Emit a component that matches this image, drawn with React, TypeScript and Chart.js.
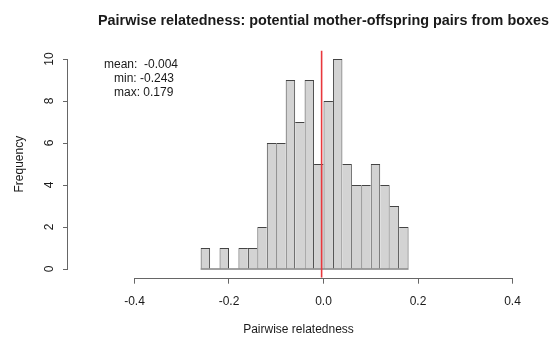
import React, { useEffect, useRef } from "react";
import { Chart, registerables } from "chart.js";

Chart.register(...registerables);

const TITLE = "Pairwise relatedness: potential mother-offspring pairs from boxes";
const X_LABEL = "Pairwise relatedness";
const Y_LABEL = "Frequency";

const BIN_WIDTH = 0.02;
const BIN_CENTERS = [
  -0.25, -0.23, -0.21, -0.19, -0.17, -0.15, -0.13, -0.11, -0.09, -0.07, -0.05,
  -0.03, -0.01, 0.01, 0.03, 0.05, 0.07, 0.09, 0.11, 0.13, 0.15, 0.17,
];
const COUNTS = [1, 0, 1, 0, 1, 1, 2, 6, 6, 9, 7, 9, 5, 8, 10, 5, 4, 4, 5, 4, 3, 2];

const X_TICKS = [-0.4, -0.2, 0, 0.2, 0.4];
const Y_TICKS = [0, 2, 4, 6, 8, 10];

const MEAN = -0.004;
const STAT_LINES = ["mean:  -0.004", "min: -0.243", "max: 0.179"];

const FONT = '"Liberation Sans", Arial, Helvetica, sans-serif';
const AXIS_COLOR = "#666";
const BAR_EDGE = "#444";
const TEXT_COLOR = "#1a1a1a";

const X_MIN = -0.5407;
const X_MAX = 0.4349;
const Y_MIN = -0.414;
const Y_MAX = 10.4;

const rStylePlugin = {
  id: "rstyle",
  afterDraw(chart: any) {
    const { ctx, chartArea } = chart;
    const xs = chart.scales.x;
    const ys = chart.scales.y;
    ctx.save();
    ctx.strokeStyle = AXIS_COLOR;
    ctx.lineWidth = 1;
    ctx.beginPath();
    const yb = Math.round(chartArea.bottom) + 0.5;
    ctx.moveTo(xs.getPixelForValue(X_TICKS[0]), yb);
    ctx.lineTo(xs.getPixelForValue(X_TICKS[X_TICKS.length - 1]), yb);
    const xl = Math.round(chartArea.left) - 0.5;
    ctx.moveTo(xl, ys.getPixelForValue(Y_TICKS[0]));
    ctx.lineTo(xl, ys.getPixelForValue(Y_TICKS[Y_TICKS.length - 1]));
    ctx.stroke();

    ctx.fillStyle = TEXT_COLOR;
    ctx.font = `bold 14.4px ${FONT}`;
    ctx.textAlign = "center";
    ctx.textBaseline = "middle";
    ctx.fillText(TITLE, xs.getPixelForValue(0), 21);

    ctx.font = `12px ${FONT}`;
    ctx.textAlign = "left";
    const lx = [104, 114, 114];
    const ly = [65, 79, 93];
    STAT_LINES.forEach((t, i) => ctx.fillText(t, lx[i], ly[i]));
    ctx.restore();
  },
};

export default function App() {
  const ref = useRef<HTMLCanvasElement>(null);
  useEffect(() => {
    if (!ref.current) return;
    const barData = BIN_CENTERS.map((c, i) => ({ x: c, y: COUNTS[i] }));
    const chart = new Chart(ref.current, {
      type: "bar",
      data: {
        datasets: [
          {
            type: "line",
            data: [
              { x: MEAN, y: Y_MIN },
              { x: MEAN, y: Y_MAX },
            ],
            borderColor: "#e8383d",
            borderWidth: 1.6,
            pointRadius: 0,
            order: 0,
          } as any,
          {
            type: "line",
            data: [
              { x: BIN_CENTERS[0] - BIN_WIDTH / 2, y: 0 },
              { x: BIN_CENTERS[BIN_CENTERS.length - 1] + BIN_WIDTH / 2, y: 0 },
            ],
            borderColor: BAR_EDGE,
            borderWidth: 1,
            pointRadius: 0,
            order: 1,
          } as any,
          {
            type: "bar",
            data: barData,
            backgroundColor: "#d3d3d3",
            borderColor: BAR_EDGE,
            borderSkipped: false,
            inflateAmount: 0,
            barPercentage: 1,
            categoryPercentage: 1,
            borderWidth: (ctx: any) => {
              const i = ctx.dataIndex;
              const c = COUNTS[i];
              if (!c) return 0;
              const prev = COUNTS[i - 1];
              const next = COUNTS[i + 1];
              return {
                top: 1,
                bottom: 0,
                left: prev === undefined || c >= prev ? 1 : 0,
                right: next === undefined || c > next ? 1 : 0,
              };
            },
            order: 2,
          } as any,
        ],
      },
      options: {
        animation: false,
        responsive: false,
        layout: { padding: { top: 50.6, left: 0, right: 26, bottom: 0 } },
        plugins: { legend: { display: false }, tooltip: { enabled: false }, title: { display: false } },
        scales: {
          x: {
            type: "linear",
            min: X_MIN,
            max: X_MAX,
            offset: false,
            afterBuildTicks: (s: any) => {
              s.ticks = X_TICKS.map((v) => ({ value: v }));
            },
            afterFit: (s: any) => {
              s.height = 63.3;
            },
            border: { display: false },
            grid: { offset: false, drawOnChartArea: false, drawTicks: true, tickLength: 6, color: AXIS_COLOR },
            ticks: {
              padding: 11,
              maxRotation: 0,
              autoSkip: false,
              color: TEXT_COLOR,
              font: { family: FONT, size: 12 },
              callback: (v: any) => Number(v).toFixed(1),
            },
            title: {
              display: true,
              text: X_LABEL,
              color: TEXT_COLOR,
              font: { family: FONT, size: 12 },
              padding: { top: 0, bottom: 3.8 },
            },
          },
          y: {
            type: "linear",
            min: Y_MIN,
            max: Y_MAX,
            afterBuildTicks: (s: any) => {
              s.ticks = Y_TICKS.map((v) => ({ value: v }));
            },
            afterFit: (s: any) => {
              s.width = 68;
            },
            border: { display: false },
            grid: { offset: false, drawOnChartArea: false, drawTicks: true, tickLength: 5, color: AXIS_COLOR },
            ticks: {
              padding: 6.3,
              minRotation: 90,
              maxRotation: 90,
              crossAlign: "center",
              autoSkip: false,
              color: TEXT_COLOR,
              font: { family: FONT, size: 12 },
              callback: (v: any) => String(v),
            },
            title: {
              display: true,
              text: Y_LABEL,
              color: TEXT_COLOR,
              font: { family: FONT, size: 12 },
              padding: { top: 12.8, bottom: 0 },
            },
          },
        },
      },
      plugins: [rStylePlugin],
    });
    return () => chart.destroy();
  }, []);
  return (
    <div style={{ position: "fixed", left: 0, top: 0, width: 555, height: 341, background: "#fff" }}>
      <canvas ref={ref} width={555} height={341} style={{ width: 555, height: 341, display: "block" }} />
    </div>
  );
}
